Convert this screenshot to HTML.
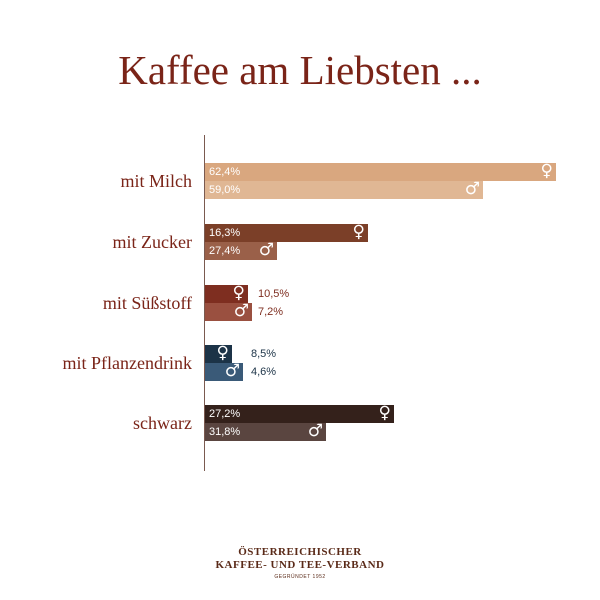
<!DOCTYPE html>
<html><head><meta charset="utf-8"><style>
body{margin:0;background:#fff;width:600px;height:600px;position:relative;overflow:hidden;font-family:"Liberation Sans",sans-serif}
.t{position:absolute;left:0;width:600px;text-align:center;top:46px;font:41px "Liberation Serif",serif;color:#7a2418}
.ax{position:absolute;left:204px;top:135px;width:1px;height:336px;background:#7a5a50}
.b{position:absolute;left:205px;height:18px;color:#fff;font-size:11px;line-height:18px}
.b span{position:absolute;left:4px}
.b i{position:absolute;right:3px;font-style:normal;font-size:17px;font-weight:bold;top:-1px;font-family:"DejaVu Sans",sans-serif}
.l{position:absolute;right:408px;font:18px "Liberation Serif",serif;color:#7a2418}
.o{position:absolute;font-size:11px;line-height:18px}
.f{position:absolute;left:0;width:600px;text-align:center;font:bold 11px "Liberation Serif",serif;color:#5a2a18;letter-spacing:0.5px}
</style></head><body>
<div class="t">Kaffee am Liebsten ...</div>
<div class="ax"></div>
<div class="l" style="top:171px">mit Milch</div>
<div class="l" style="top:232px">mit Zucker</div>
<div class="l" style="top:293px">mit Süßstoff</div>
<div class="l" style="top:353px">mit Pflanzendrink</div>
<div class="l" style="top:413px">schwarz</div>

<div class="b" style="top:163px;width:351px;background:#d9a77f"><span>62,4%</span><i>♀</i></div>
<div class="b" style="top:181px;width:278px;background:#e0b794"><span>59,0%</span><i>♂</i></div>
<div class="b" style="top:224px;width:163px;background:#7b3f28"><span>16,3%</span><i>♀</i></div>
<div class="b" style="top:242px;width:72px;background:#9a6049"><span>27,4%</span><i>♂</i></div>
<div class="b" style="top:285px;width:43px;background:#7e2e20"><i>♀</i></div>
<div class="b" style="top:303px;width:47px;background:#9a5040"><i>♂</i></div>
<div class="o" style="top:285px;left:258px;color:#7e2e20">10,5%</div>
<div class="o" style="top:303px;left:258px;color:#7e2e20">7,2%</div>
<div class="b" style="top:345px;width:27px;background:#1c3347"><i>♀</i></div>
<div class="b" style="top:363px;width:38px;background:#3a5a78"><i>♂</i></div>
<div class="o" style="top:345px;left:251px;color:#1c3347">8,5%</div>
<div class="o" style="top:363px;left:251px;color:#1c3347">4,6%</div>
<div class="b" style="top:405px;width:189px;background:#34211b"><span>27,2%</span><i>♀</i></div>
<div class="b" style="top:423px;width:121px;background:#5a4540"><span>31,8%</span><i>♂</i></div>

<div class="f" style="top:546px">ÖSTERREICHISCHER</div>
<div class="f" style="top:559px">KAFFEE- UND TEE-VERBAND</div>
<div class="f" style="top:574px;font:5px 'Liberation Sans',sans-serif;color:#5a2a18">GEGRÜNDET 1952</div>
</body></html>
